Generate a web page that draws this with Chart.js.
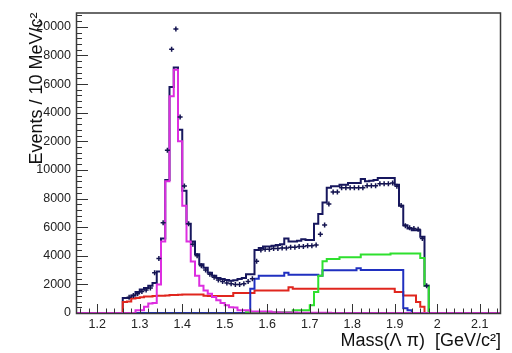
<!DOCTYPE html>
<html>
<head>
<meta charset="utf-8">
<script src="https://cdn.jsdelivr.net/npm/chart.js@4.4.1/dist/chart.umd.min.js"></script>
<style>
  html, body { margin: 0; padding: 0; background: #ffffff; }
  #wrap { width: 512px; height: 353px; position: relative; }
</style>
</head>
<body>
<div id="wrap"><canvas id="c" width="512" height="353"></canvas></div>
<script>
// Λπ invariant-mass spectrum, 10 MeV bins
const binWidth = 0.01;

// Data counts, one per bin from 1.27 to 1.98
const dataStart = 1.27;
const dataCounts = [1100, 1230, 1350, 1500, 1600, 1750, 2820, 3800, 6300, 11370, 18430, 19850, 13700, 8880, 6240,
  4800, 4000, 3300, 3000, 2700, 2500, 2300, 2200, 2100, 2050, 2000, 2000, 2050, 2200, 2400, 3620, 4400, 4450, 4450,
  4500, 4500, 4550, 4550, 4600, 4600, 4650, 4650, 4700, 4700, 4760, 5500, 6150, 7610, 8460, 8460, 8750, 8750, 8750,
  8750, 8750, 8750, 8900, 8900, 8900, 9040, 9040, 9040, 9090, 8860, 7520, 6100, 5950, 5900, 5850, 5210, 1910];

// Total fit, one per bin from 1.26 to 1.98
const totalStart = 1.26;
const totalFit = [1050, 1050, 1230, 1460, 1640, 1750, 1910, 2100, 2900, 5200, 9300, 15800, 17150, 12800, 8540, 6240,
  5000, 4100, 3400, 3170, 2820, 2600, 2450, 2370, 2300, 2250, 2280, 2370, 2440, 2710, 2710, 4400, 4550, 4650, 4650,
  4700, 4750, 4800, 5200, 5000, 5000, 5050, 5150, 5100, 5100, 6240, 6920, 7720, 8750, 8860, 8860, 8970, 8970, 9090,
  9090, 9090, 9360, 9200, 9250, 9300, 9430, 9430, 9430, 9430, 8970, 7500, 6130, 5900, 5790, 5790, 5330, 1900];

// Σ(1385) component over the full range
const signalStart = 1.15;
const signal1385 = [0, 0, 0, 0, 0, 0, 0, 0, 0, 0, 0, 0, 0, 0, 200, 200, 430, 660, 700, 2000, 4990, 9200, 15150, 17000,
  12000, 7500, 5000, 3600, 2600, 1900, 1570, 1350, 1110, 890, 700, 550, 400, 380, 200, 200, 200, 100, 100, 100, 100,
  100, 60, 50, 40, 40, 30, 30, 20, 20, 20, 20, 10, 10, 10, 10, 0, 0, 0, 0, 0, 0, 0, 0, 0, 0, 0, 0, 0, 0, 0, 0, 0, 0, 0,
  0, 0, 0, 0, 0, 0, 0, 0, 0, 0, 0, 0, 0, 0, 0, 0, 0, 0, 0, 0, 0];

const bkgStart = 1.26;
const background = [770, 800, 1020, 1050, 1100, 1160, 1160, 1180, 1200, 1200, 1220, 1250, 1250, 1280, 1300, 1300,
  1300, 1300, 1300, 1200, 1180, 1180, 1180, 1180, 1180, 1180, 1390, 1390, 1390, 1390, 1390, 1570, 1570, 1570, 1570,
  1570, 1570, 1570, 1570, 1800, 1700, 1700, 1700, 1700, 1700, 1700, 1700, 1700, 1700, 1700, 1700, 1700, 1700, 1700,
  1700, 1700, 1700, 1700, 1700, 1700, 1700, 1700, 1700, 1700, 1460, 1460, 1230, 1230, 1230, 770, 430, 0];

const blueStart = 1.26;
const blueComp = [0, 0, 0, 0, 0, 0, 0, 0, 0, 0, 0, 0, 0, 0, 0, 0, 0, 0, 0, 0, 0, 0, 0, 0, 0, 0, 0, 0, 0, 0, 1700, 2390,
  2600, 2600, 2600, 2600, 2600, 2600, 2820, 2670, 2670, 2670, 2670, 2670, 2670, 2670, 2600, 2990, 2990, 2990, 2990,
  2990, 2990, 2990, 2990, 3120, 3000, 3000, 3000, 3000, 3000, 3000, 3000, 3000, 3000, 3000, 340, 200, 0, 0, 0, 0];

const greenStart = 1.55;
const greenComp = [50, 50, 50, 50, 50, 50, 50, 50, 50, 50, 50, 200, 200, 200, 200, 550, 1460, 2600, 3620, 3780, 3780,
  3780, 3900, 3900, 3900, 3900, 3900, 4080, 4080, 4080, 4080, 4080, 4080, 4080, 4150, 4150, 4150, 4150, 4150, 4150,
  4150, 3850, 1900];

// Axis ticks
const xTickValues = [1.2, 1.3, 1.4, 1.5, 1.6, 1.7, 1.8, 1.9, 2.0, 2.1];
const xTickLabels = ['1.2', '1.3', '1.4', '1.5', '1.6', '1.7', '1.8', '1.9', '2', '2.1'];
const yTickValues = [0, 2000, 4000, 6000, 8000, 10000, 12000, 14000, 16000, 18000, 20000];
const yTickLabels = ['0', '2000', '4000', '6000', '8000', '10000', '2000', '4000', '6000', '8000', '20000'];

const xTitle = 'Mass(\u039B \u03C0)  [GeV/c\u00B2]';
const yTitle = 'Events / 10 MeV/c\u00B2';

const FONT = '"Liberation Sans", Arial, Helvetica, sans-serif';

// Histogram outline: one point per left bin edge, closed to zero at both ends
function histPoints(start, values) {
  const pts = [{ x: start, y: 0 }];
  values.forEach((v, i) => pts.push({ x: start + i * binWidth, y: v }));
  pts.push({ x: start + values.length * binWidth, y: 0 });
  return pts;
}

function dataPoints(start, values) {
  return values.map((v, i) => ({ x: start + (i + 0.5) * binWidth, y: v }));
}

function histDataset(label, start, values, color, width, order) {
  return {
    type: 'line', label, data: histPoints(start, values), stepped: true,
    borderColor: color, borderWidth: width, pointRadius: 0, fill: false,
    clip: 4, order
  };
}

// ROOT-style frame: inward ticks, box, axis titles
const framePlugin = {
  id: 'frame',
  afterDatasetsDraw(chart) {
    const { ctx, chartArea: a, scales: { x, y } } = chart;
    ctx.save();
    ctx.strokeStyle = '#333333';
    ctx.lineWidth = 1;
    ctx.beginPath();
    for (let k = 116; k <= 214; k += 2) {
      const px = Math.round(x.getPixelForValue(k / 100)) + 0.5;
      const major = k % 10 === 0;
      ctx.moveTo(px, a.bottom);
      ctx.lineTo(px, a.bottom - (major ? 9 : 4.5));
    }
    for (let v = 0; v <= 21000; v += 400) {
      const py = Math.round(y.getPixelForValue(v)) + 0.5;
      const major = v % 2000 === 0;
      ctx.moveTo(a.left, py);
      ctx.lineTo(a.left + (major ? 12 : 6), py);
    }
    ctx.stroke();
    ctx.lineWidth = 1.5;
    ctx.strokeStyle = '#3a3a3a';
    ctx.strokeRect(a.left + 0.5, a.top + 0.5, a.right - a.left - 1, a.bottom - a.top);
    ctx.restore();
  },
  afterDraw(chart) {
    const { ctx, chartArea: a } = chart;
    ctx.save();
    ctx.fillStyle = '#111111';
    ctx.font = '18px ' + FONT;
    ctx.textAlign = 'right';
    ctx.textBaseline = 'alphabetic';
    ctx.fillText(xTitle, a.right, 346);
    ctx.translate(42, a.top);
    ctx.rotate(-Math.PI / 2);
    ctx.fillText(yTitle, 0, 0);
    ctx.restore();
  }
};

new Chart(document.getElementById('c'), {
  type: 'scatter',
  data: {
    datasets: [
      {
        type: 'scatter', label: 'Data', data: dataPoints(dataStart, dataCounts),
        pointStyle: 'cross', pointRadius: 2.5, borderColor: '#141450', borderWidth: 1.5,
        backgroundColor: '#141450', order: 0
      },
      histDataset('\u03A3(1385)', signalStart, signal1385, '#dd2ee0', 2, 1),
      histDataset('Green component', greenStart, greenComp, '#2ee02e', 2, 2),
      histDataset('Blue component', blueStart, blueComp, '#2030c0', 2, 3),
      histDataset('Background', bkgStart, background, '#e0261e', 2, 4),
      histDataset('Total fit', totalStart, totalFit, '#17175e', 2, 5)
    ]
  },
  options: {
    responsive: false,
    animation: false,
    devicePixelRatio: 1,
    layout: { padding: { top: 5, right: 11, left: 0, bottom: 0 } },
    plugins: { legend: { display: false }, tooltip: { enabled: false } },
    scales: {
      x: {
        type: 'linear', min: 1.15, max: 2.15,
        grid: { display: false, drawTicks: false },
        border: { display: false },
        afterBuildTicks: s => { s.ticks = xTickValues.map(v => ({ value: v })); },
        afterFit: s => { s.height = 40; },
        ticks: {
          padding: 4, color: '#222222', font: { family: FONT, size: 12.5 },
          maxRotation: 0, autoSkip: false,
          callback: (v, i) => xTickLabels[i]
        }
      },
      y: {
        type: 'linear', min: 0, max: 21000,
        grid: { display: false, drawTicks: false },
        border: { display: false },
        afterBuildTicks: s => { s.ticks = yTickValues.map(v => ({ value: v })); },
        afterFit: s => { s.width = 76; },
        ticks: {
          padding: 5, color: '#222222', font: { family: FONT, size: 12.5 },
          autoSkip: false,
          callback: (v, i) => yTickLabels[i]
        }
      }
    }
  },
  plugins: [framePlugin]
});
</script>
</body>
</html>
